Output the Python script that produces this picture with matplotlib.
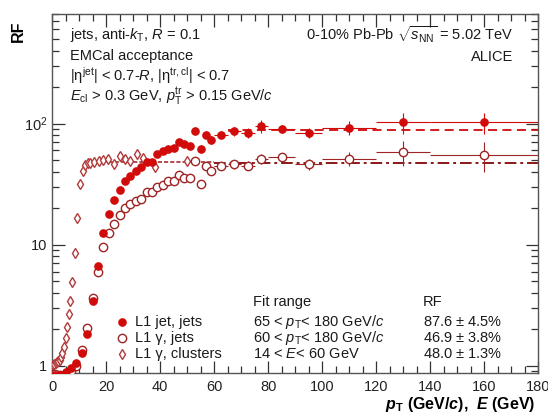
import numpy as np
import matplotlib
matplotlib.use("Agg")
import matplotlib.pyplot as plt
from matplotlib.ticker import MultipleLocator, LogLocator, NullFormatter, FixedFormatter, FixedLocator

plt.rcParams['font.family'] = ['Liberation Sans', 'DejaVu Sans']
plt.rcParams['mathtext.fontset'] = 'custom'
plt.rcParams['mathtext.rm'] = 'Liberation Sans'
plt.rcParams['mathtext.it'] = 'Liberation Sans:italic'
plt.rcParams['mathtext.bf'] = 'Liberation Sans:bold'
plt.rcParams['mathtext.bfit'] = 'Liberation Sans:bold:italic'

# L1 jet, jets (filled circles)
jet_x = [1, 3, 5, 7, 9, 11, 13, 15, 17, 19, 21, 23, 25, 27, 29, 31, 33, 35, 37, 39,
         41, 43, 45, 47, 49, 51, 53, 55, 57, 59, 62.5, 67.5, 72.5, 77.5, 85, 95, 110, 130, 160]
jet_xerr = [1]*30 + [2.5, 2.5, 2.5, 2.5, 5, 5, 10, 10, 20]
jet_y = [0.84, 0.84, 0.88, 0.96, 1.06, 1.27, 1.84, 3.45, 6.7, 12.4, 18, 23.5, 28.5, 33.6, 37,
         40.5, 44, 48, 48, 55.5, 59, 62, 63, 70.6, 67.5, 65, 87.5, 62, 81, 73,
         81, 86.5, 84, 95, 90.6, 84, 92, 102, 102]
jet_rel = [0.01]*12 + [0.02]*8 + [0.04, 0.04, 0.05, 0.05, 0.05, 0.06, 0.07, 0.07, 0.07, 0.07,
           0.07, 0.08, 0.09, 0.12, 0.08, 0.10, 0.13, 0.20, 0.20]

# L1 gamma, jets (open circles)
gj_x = jet_x
gj_xerr = jet_xerr
gj_y = [0.86, 0.84, 0.86, 0.9, 1.0, 1.36, 2.06, 3.65, 6.0, 9.65, 12.5, 14.9, 17.4, 19.9, 21.5,
        23.1, 24, 27, 27.3, 29.9, 31, 33.7, 33.7, 37.6, 35.5, 35.5, 49, 31.7, 45, 40.3,
        44.6, 46, 45, 51, 52.8, 45.9, 51, 58, 55]
gj_rel = [0.01]*12 + [0.02]*8 + [0.04, 0.04, 0.05, 0.05, 0.05, 0.06, 0.07, 0.07, 0.07, 0.07,
          0.07, 0.08, 0.09, 0.10, 0.09, 0.10, 0.13, 0.23, 0.27]

# L1 gamma, clusters (open diamonds)
gc_x = [0.3, 0.8, 1.3, 1.8, 2.3, 2.8, 3.3, 3.8, 4.4, 5.1, 5.7, 6.3, 6.7, 7.5, 8.4, 9.4, 10.3,
        11.3, 12.3, 13.2, 14.2, 15.4, 17.2, 19, 20.9, 23, 25.2, 27, 28.9, 31.4, 33.8,
        38.1, 50]
gc_y = [1.02, 1.03, 1.05, 1.07, 1.09, 1.12, 1.18, 1.27, 1.44, 1.69, 2.07, 2.67, 3.45, 4.95,
        8.6, 16.5, 31.8, 40.6, 45.5, 46.8, 47.2, 48.5, 48.9, 49.5, 50.6, 46.5, 54, 50.6,
        49.3, 55.5, 52, 43.5, 49]

# fits
fit_lo = [65, 60, 14]
fit_hi = [180, 180, 60]
fit_rf = [87.6, 46.9, 48.0]

c_jet = '#d10a0a'
c_gj = '#9e2424'
c_gc = '#b23a3a'

fig = plt.figure(figsize=(5.48, 4.15), dpi=100)
ax = fig.add_axes([0.095, 0.101, 0.887, 0.865])

ax.plot([fit_lo[0], fit_hi[0]], [fit_rf[0]]*2, ls=(0, (5, 3)), color=c_jet, lw=1.3)
ax.plot([fit_lo[1], fit_hi[1]], [fit_rf[1]]*2, ls=(0, (6, 2, 1.5, 2)), color='#8b1818', lw=1.4)
ax.plot([fit_lo[2], fit_hi[2]], [fit_rf[2]]*2, ls=(0, (2.5, 1.2)), color='#a03030', lw=1.2)

jet_y = np.array(jet_y)
gj_y = np.array(gj_y)
ax.errorbar(jet_x, jet_y, xerr=jet_xerr, yerr=jet_y*np.array(jet_rel), fmt='o', ms=5.2,
            color=c_jet, mfc=c_jet, mec=c_jet, elinewidth=0.8, capsize=0, zorder=4)
ax.errorbar(gj_x, gj_y, xerr=gj_xerr, yerr=gj_y*np.array(gj_rel), fmt='o', ms=6,
            color=c_gj, mfc='white', mec=c_gj, mew=1.0, elinewidth=0.8, capsize=0, zorder=3)
ax.plot(gc_x, gc_y, 'd', ms=5.6, mfc='white', mec=c_gc, mew=1.0, ls='none', zorder=3)

ax.set_xlim(0, 180)
ax.set_yscale('log')
ax.set_ylim(0.87, 800)

ax.xaxis.set_major_locator(MultipleLocator(20))
ax.xaxis.set_minor_locator(MultipleLocator(5))
ax.yaxis.set_major_locator(FixedLocator([1, 10, 100]))
ax.yaxis.set_major_formatter(FixedFormatter(['1', '10', r'10$^{2}$']))
ax.yaxis.set_minor_locator(LogLocator(base=10, subs=np.arange(2, 10)))
ax.yaxis.set_minor_formatter(NullFormatter())
ax.tick_params(which='both', direction='in', top=True, right=True, labelsize=10.5,
               colors='#333333', labelcolor='#222222')
ax.tick_params(which='major', length=9, width=0.9)
ax.tick_params(which='minor', length=5, width=0.9)
ax.tick_params(axis='x', which='major', pad=5)
for s in ax.spines.values():
    s.set_color('#555555')
    s.set_linewidth(1.0)

fig.text(18/548, 1-20/415, 'RF', rotation=90, fontsize=11.5, fontweight='bold',
         ha='center', va='top')
fig.text(535/548, 1-404/415, r'$\mathbfit{p}_{\mathbf{T}}$ (GeV/$\mathbfit{c}$),  $\mathbfit{E}$ (GeV)',
         fontsize=11.5, fontweight='bold', ha='right', va='center')

tk = dict(fontsize=10.5, color='#1a1a1a', transform=fig.transFigure)
fig.text(70/548, 1-35/415, r'jets, anti-$k_{\rm T}$, $R$ = 0.1', va='center', **tk)
fig.text(70/548, 1-56/415, 'EMCal acceptance', va='center', **tk)
fig.text(70/548, 1-76/415, r'|η$^{\rm jet}$| < 0.7-$R$, |η$^{\rm tr,cl}$| < 0.7', va='center', **tk)
fig.text(70/548, 1-96/415, r'$E_{\rm cl}$ > 0.3 GeV, $p_{\rm T}^{\rm tr}$ > 0.15 GeV/$c$', va='center', **tk)
fig.text(513/548, 1-35/415, r'0-10% Pb-Pb $\sqrt{s_{\rm NN}}$ = 5.02 TeV', ha='right', va='center', **tk)
fig.text(513/548, 1-57/415, 'ALICE', ha='right', va='center', **tk)

# legend block
labels = ['L1 jet, jets', 'L1 γ, jets', 'L1 γ, clusters']
ranges = [r'65 < $p_{\rm T}$< 180 GeV/$c$', r'60 < $p_{\rm T}$< 180 GeV/$c$', r'14 < $E$< 60 GeV']
rf_txt = [r'87.6 $\pm$ 4.5%', r'46.9 $\pm$ 3.8%', r'48.0 $\pm$ 1.3%']
rows = [322, 338, 354]
styles = [('o', c_jet, c_jet, 5.2), ('o', 'white', c_gj, 6), ('d', 'white', c_gc, 5.6)]
for r, lab, rg, rf, (m, fc, ec, ms) in zip(rows, labels, ranges, rf_txt, styles):
    yy = 1 - r/415
    fig.lines.append(plt.Line2D([122/548], [yy], marker=m, ms=ms, mfc=fc, mec=ec, mew=1.0,
                                ls='none', transform=fig.transFigure))
    fig.text(135/548, yy, lab, va='center', **tk)
    fig.text(253/548, yy, rg, va='center', **tk)
    fig.text(423/548, yy, rf, va='center', **tk)
fig.text(253/548, 1-302/415, 'Fit range', va='center', **tk)
fig.text(423/548, 1-302/415, 'RF', va='center', **tk)

fig.savefig('out.png', dpi=100)
